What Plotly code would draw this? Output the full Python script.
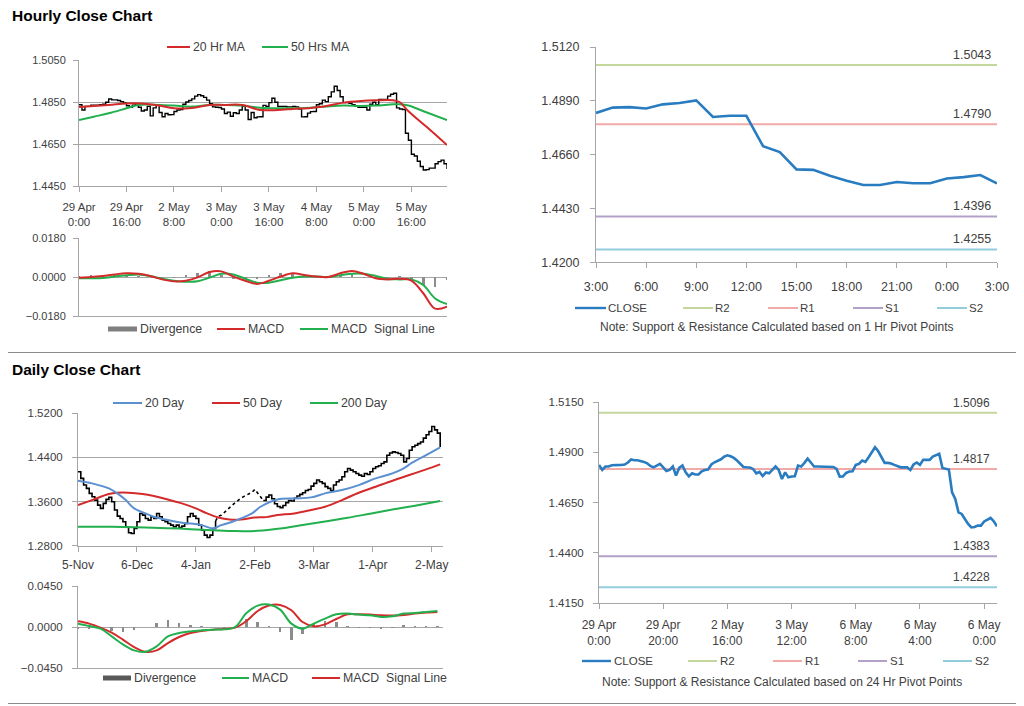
import plotly.graph_objects as go
import numpy as np

FONT = "Liberation Sans, Arial, sans-serif"
W, H = 1024, 706
OFF = 8  # the page body margin shifts the figure by this many pixels
TXT = "#404040"
AX = "#a6a6a6"

# ---------------- DATA ----------------
# Hourly closes (29 Apr 0:00 .. 6 May 0:00 + 4h), one value per hour
HOURLY_CLOSE = [
    1.4837, 1.4812, 1.4829, 1.4829, 1.4835, 1.4835, 1.4835, 1.4837, 1.4839, 1.4849,
    1.4864, 1.4860, 1.4860, 1.4857, 1.4852, 1.4845, 1.4832, 1.4825, 1.4835, 1.4842,
    1.4825, 1.4807, 1.4812, 1.4829, 1.4784, 1.4822, 1.4834, 1.4800, 1.4780, 1.4795,
    1.4789, 1.4790, 1.4805, 1.4812, 1.4814, 1.4839, 1.4850, 1.4857, 1.4865, 1.4878,
    1.4885, 1.4880, 1.4872, 1.4859, 1.4842, 1.4827, 1.4825, 1.4824, 1.4817, 1.4795,
    1.4802, 1.4782, 1.4799, 1.4795, 1.4812, 1.4829, 1.4812, 1.4767, 1.4800, 1.4775,
    1.4779, 1.4780, 1.4834, 1.4829, 1.4847, 1.4868, 1.4849, 1.4829, 1.4829, 1.4829,
    1.4827, 1.4827, 1.4829, 1.4827, 1.4817, 1.4779, 1.4780, 1.4797, 1.4804, 1.4805,
    1.4837, 1.4842, 1.4859, 1.4852, 1.4875, 1.4898, 1.4925, 1.4905, 1.4875, 1.4847,
    1.4847, 1.4844, 1.4837, 1.4829, 1.4825, 1.4825, 1.4825, 1.4812, 1.4839, 1.4849,
    1.4837, 1.4862, 1.4862, 1.4862, 1.4878, 1.4887, 1.4892, 1.4822, 1.4817, 1.4814,
    1.4701, 1.4668, 1.4601, 1.4593, 1.4568, 1.4543, 1.4526, 1.4528, 1.4535, 1.4535,
    1.4556, 1.4566, 1.4573, 1.4556, 1.4531,
]
HOURLY_TICK_POS_A = [0, 16, 32, 48, 64, 80, 96, 112]
HOURLY_TICK_TEXT_A = ["29 Apr<br>0:00", "29 Apr<br>16:00", "2 May<br>8:00", "3 May<br>0:00",
                      "3 May<br>16:00", "4 May<br>8:00", "5 May<br>0:00", "5 May<br>16:00"]
HOURLY_TICK_POS_B = [0, 20, 40, 60, 80, 100, 120]
HOURLY_TICK_TEXT_B = ["29 Apr<br>0:00", "29 Apr<br>20:00", "2 May<br>16:00", "3 May<br>12:00",
                      "6 May<br>8:00", "6 May<br>4:00", "6 May<br>0:00"]

MA20H_X = [0, 10, 16, 21, 27, 32, 38, 44, 49, 55, 61, 67, 72, 78, 83, 89, 95, 100, 106, 108, 111, 117, 124]
MA20H_Y = [1.4826, 1.4836, 1.4843, 1.4843, 1.4833, 1.4820, 1.4822, 1.4836, 1.4836, 1.4836, 1.4812,
           1.4812, 1.4817, 1.4822, 1.4830, 1.4847, 1.4855, 1.4858, 1.4858, 1.4850, 1.4806, 1.4733, 1.4645]
MA50H_X = [0, 5, 10, 16, 20, 27, 32, 38, 44, 49, 55, 61, 67, 72, 78, 83, 89, 95, 100, 106, 108, 111, 117, 124]
MA50H_Y = [1.4764, 1.4780, 1.4796, 1.4820, 1.4836, 1.4836, 1.4833, 1.4828, 1.4836, 1.4836, 1.4833, 1.4823,
           1.4820, 1.4820, 1.4823, 1.4828, 1.4833, 1.4831, 1.4833, 1.4839, 1.4839, 1.4833, 1.4801, 1.4764]

MACDH_X = list(range(0, 125, 4))
MACDH_MACD = [-0.0003, 0.0000, 0.0005, 0.0012, 0.0017, 0.0015, 0.0005, -0.0011, -0.0020, -0.0017,
              -0.0002, 0.0023, 0.0026, 0.0002, -0.0017, -0.0032, -0.0017, 0.0002, 0.0017, 0.0009,
              0.0002, 0.0000, 0.0017, 0.0028, 0.0014, -0.0006, -0.0011, -0.0008, -0.0017, -0.0075,
              -0.0146, -0.0137]
MACDH_SIGNAL = [-0.0006, -0.0006, -0.0005, 0.0002, 0.0008, 0.0012, 0.0005, -0.0008, -0.0017, -0.0022,
                -0.0020, -0.0003, 0.0015, 0.0012, -0.0008, -0.0026, -0.0026, -0.0015, -0.0003, 0.0002,
                0.0002, 0.0000, 0.0008, 0.0015, 0.0015, 0.0005, -0.0009, -0.0011, -0.0011, -0.0037,
                -0.0099, -0.0125]

# 1 Hr pivot chart
PIV1_LABELS = ["3:00", "6:00", "9:00", "12:00", "15:00", "18:00", "21:00", "0:00", "3:00"]
PIV1_CLOSE = [1.4838, 1.4861, 1.4863, 1.4857, 1.4875, 1.4881, 1.4892, 1.4821, 1.4826, 1.4826,
              1.4696, 1.4671, 1.4597, 1.4595, 1.4570, 1.4548, 1.4530, 1.4530, 1.4543, 1.4538,
              1.4538, 1.4558, 1.4564, 1.4573, 1.4537]
PIV1_LEVELS = {"R2": 1.5043, "R1": 1.4790, "S1": 1.4396, "S2": 1.4255}

# 24 Hr pivot levels
PIV24_LEVELS = {"R2": 1.5096, "R1": 1.4817, "S1": 1.4383, "S2": 1.4228}

# Daily closes (5-Nov .. early May)
DAILY_CLOSE = [
    1.4141, 1.4020, 1.3899, 1.3839, 1.3748, 1.3688, 1.3627, 1.3536, 1.3476, 1.3567,
    1.3639, 1.3676, 1.3597, 1.3446, 1.3337, 1.3294, 1.3234, 1.3143, 1.3034, 1.3022,
    1.3113, 1.3234, 1.3385, 1.3355, 1.3294, 1.3264, 1.3325, 1.3294, 1.3385, 1.3325,
    1.3264, 1.3234, 1.3203, 1.3173, 1.3143, 1.3173, 1.3131, 1.3155, 1.3203, 1.3325,
    1.3385, 1.3337, 1.3294, 1.3173, 1.3082, 1.2992, 1.2949, 1.2992, 1.3113, 1.3250,
    1.3337, 1.3350, 1.3400, 1.3440, 1.3490, 1.3536, 1.3580, 1.3627, 1.3660, 1.3690,
    1.3718, 1.3740, 1.3770, 1.3821, 1.3760, 1.3690, 1.3620, 1.3680, 1.3720, 1.3650,
    1.3560, 1.3510, 1.3490, 1.3530, 1.3580, 1.3620, 1.3610, 1.3660, 1.3700, 1.3730,
    1.3760, 1.3800, 1.3820, 1.3880, 1.3930, 1.3990, 1.3960, 1.3930, 1.3870, 1.3840,
    1.3800, 1.3900, 1.3960, 1.3990, 1.4050, 1.4141, 1.4200, 1.4170, 1.4141, 1.4110,
    1.4080, 1.4060, 1.4110, 1.4090, 1.4140, 1.4200, 1.4230, 1.4250, 1.4290, 1.4320,
    1.4440, 1.4480, 1.4500, 1.4490, 1.4470, 1.4440, 1.4320, 1.4380, 1.4530, 1.4595,
    1.4620, 1.4650, 1.4680, 1.4750, 1.4810, 1.4870, 1.4960, 1.4900, 1.4840, 1.4590,
]
DAILY_GAP = (49, 66)  # stretch drawn dotted in the source
DAILY_TICK_POS = [0, 21, 42, 63, 84, 105, 126]
DAILY_TICK_TEXT = ["5-Nov", "6-Dec", "4-Jan", "2-Feb", "3-Mar", "1-Apr", "2-May"]

MA20D_X = [0, 5, 11, 14, 17, 20, 24, 27, 32, 37, 40, 44, 48, 51, 55, 58, 62, 65, 71, 77, 83, 88, 94,
           100, 106, 112, 116, 119, 124, 129]
MA20D_Y = [1.3978, 1.3930, 1.3839, 1.3748, 1.3627, 1.3476, 1.3385, 1.3325, 1.3264, 1.3216, 1.3203,
           1.3173, 1.3113, 1.3173, 1.3234, 1.3294, 1.3385, 1.3506, 1.3639, 1.3657, 1.3676, 1.3748,
           1.3808, 1.3899, 1.4020, 1.4111, 1.4202, 1.4305, 1.4444, 1.4583]
MA50D_X = [0, 5, 11, 14, 18, 23, 27, 32, 37, 42, 46, 50, 54, 58, 63, 67, 71, 77, 83, 88, 94, 100, 106,
           112, 118, 124, 129]
MA50D_Y = [1.3536, 1.3627, 1.3736, 1.3760, 1.3760, 1.3736, 1.3700, 1.3639, 1.3567, 1.3476, 1.3385,
           1.3312, 1.3276, 1.3276, 1.3312, 1.3318, 1.3355, 1.3385, 1.3446, 1.3506, 1.3627, 1.3760,
           1.3869, 1.3978, 1.4081, 1.4184, 1.4274]
MA200D_X = [0, 12, 24, 36, 48, 56, 64, 72, 80, 88, 96, 104, 112, 120, 129]
MA200D_Y = [1.3145, 1.3143, 1.3130, 1.3110, 1.3080, 1.3065, 1.3070, 1.3110, 1.3175, 1.3240, 1.3305,
            1.3380, 1.3455, 1.3525, 1.3610]

MACDD_X = list(range(0, 129, 4))
MACDD_MACD = [0.0037, 0.0011, -0.0018, -0.0103, -0.0191, -0.0257, -0.0272, -0.0213, -0.0103, -0.0066,
              -0.0048, -0.0037, -0.0029, -0.0026, 0.0000, 0.0154, 0.0235, 0.0246, 0.0191, 0.0037,
              -0.0018, 0.0037, 0.0092, 0.0139, 0.0147, 0.0136, 0.0128, 0.0110, 0.0117, 0.0147,
              0.0154, 0.0165, 0.0176]
MACDD_SIGNAL = [0.0062, 0.0037, -0.0007, -0.0062, -0.0139, -0.0220, -0.0272, -0.0257, -0.0176, -0.0110,
                -0.0066, -0.0044, -0.0029, -0.0022, -0.0007, 0.0066, 0.0176, 0.0235, 0.0242, 0.0184,
                0.0055, 0.0007, 0.0029, 0.0088, 0.0139, 0.0139, 0.0136, 0.0128, 0.0125, 0.0132,
                0.0147, 0.0158, 0.0165]

# ---------------- STYLE ----------------
RED = "#d42a2a"
GREEN = "#22b04e"
BLUE_MA = "#5a8fd0"
CLOSE_BLUE = "#2a7cc0"
PIV_COL = {"R2": "#c3d69b", "R1": "#f2aaa8", "S1": "#b3a2c7", "S2": "#93cddd"}
DIV_GRAY = "#8c8c8c"


def px(x):
    return (x - OFF) / W


def py(y):
    return 1 - (y - OFF) / H


fig = go.Figure()

# ---- Panel 1 : hourly close with MAs
hx = np.arange(len(HOURLY_CLOSE))
fig.add_trace(go.Scatter(x=hx, y=HOURLY_CLOSE, mode="lines", line=dict(color="black", width=1.4, shape="hv"),
                         xaxis="x", yaxis="y"))
fig.add_trace(go.Scatter(x=MA50H_X, y=MA50H_Y, mode="lines", line=dict(color=GREEN, width=2, shape="spline"),
                         xaxis="x", yaxis="y"))
fig.add_trace(go.Scatter(x=MA20H_X, y=MA20H_Y, mode="lines", line=dict(color=RED, width=2, shape="spline"),
                         xaxis="x", yaxis="y"))

# ---- Panel 2 : hourly MACD
div_h = np.array(MACDH_MACD) - np.array(MACDH_SIGNAL)
fig.add_trace(go.Bar(x=MACDH_X, y=div_h, marker=dict(color=DIV_GRAY, line=dict(width=0)), width=0.9,
                     xaxis="x2", yaxis="y2"))
fig.add_trace(go.Scatter(x=MACDH_X, y=MACDH_SIGNAL, mode="lines", line=dict(color=GREEN, width=2, shape="spline"),
                         xaxis="x2", yaxis="y2"))
fig.add_trace(go.Scatter(x=MACDH_X, y=MACDH_MACD, mode="lines", line=dict(color=RED, width=2, shape="spline"),
                         xaxis="x2", yaxis="y2"))

# ---- Panel 3 : 1 Hr pivots
n3 = len(PIV1_CLOSE)
for k in ["R2", "R1", "S1", "S2"]:
    fig.add_trace(go.Scatter(x=[0, n3 - 1], y=[PIV1_LEVELS[k]] * 2, mode="lines",
                             line=dict(color=PIV_COL[k], width=2), xaxis="x3", yaxis="y3"))
fig.add_trace(go.Scatter(x=np.arange(n3), y=PIV1_CLOSE, mode="lines", line=dict(color=CLOSE_BLUE, width=2.6),
                         xaxis="x3", yaxis="y3"))

# ---- Panel 4 : daily close with MAs
dc = np.array(DAILY_CLOSE)
dx = np.arange(len(dc))
g0, g1 = DAILY_GAP
fig.add_trace(go.Scatter(x=dx[:g0 + 1], y=dc[:g0 + 1], mode="lines", line=dict(color="black", width=1.6, shape="hv"),
                         xaxis="x4", yaxis="y4"))
fig.add_trace(go.Scatter(x=dx[g0:g1 + 1], y=dc[g0:g1 + 1], mode="lines",
                         line=dict(color="black", width=1.6, dash="dot"), xaxis="x4", yaxis="y4"))
fig.add_trace(go.Scatter(x=dx[g1:], y=dc[g1:], mode="lines", line=dict(color="black", width=1.6, shape="hv"),
                         xaxis="x4", yaxis="y4"))
fig.add_trace(go.Scatter(x=MA200D_X, y=MA200D_Y, mode="lines", line=dict(color=GREEN, width=2, shape="spline"),
                         xaxis="x4", yaxis="y4"))
fig.add_trace(go.Scatter(x=MA50D_X, y=MA50D_Y, mode="lines", line=dict(color=RED, width=2, shape="spline"),
                         xaxis="x4", yaxis="y4"))
fig.add_trace(go.Scatter(x=MA20D_X, y=MA20D_Y, mode="lines", line=dict(color=BLUE_MA, width=2, shape="spline"),
                         xaxis="x4", yaxis="y4"))

# ---- Panel 5 : daily MACD
div_d = np.array(MACDD_MACD) - np.array(MACDD_SIGNAL)
fig.add_trace(go.Bar(x=MACDD_X, y=div_d, marker=dict(color=DIV_GRAY, line=dict(width=0)), width=0.9,
                     xaxis="x5", yaxis="y5"))
fig.add_trace(go.Scatter(x=MACDD_X, y=MACDD_SIGNAL, mode="lines", line=dict(color=RED, width=2, shape="spline"),
                         xaxis="x5", yaxis="y5"))
fig.add_trace(go.Scatter(x=MACDD_X, y=MACDD_MACD, mode="lines", line=dict(color=GREEN, width=2, shape="spline"),
                         xaxis="x5", yaxis="y5"))

# ---- Panel 6 : 24 Hr pivots
n6 = len(HOURLY_CLOSE)
for k in ["R2", "R1", "S1", "S2"]:
    fig.add_trace(go.Scatter(x=[0, n6 - 1], y=[PIV24_LEVELS[k]] * 2, mode="lines",
                             line=dict(color=PIV_COL[k], width=2), xaxis="x6", yaxis="y6"))
fig.add_trace(go.Scatter(x=hx, y=HOURLY_CLOSE, mode="lines", line=dict(color=CLOSE_BLUE, width=2.6),
                         xaxis="x6", yaxis="y6"))


# ---------------- AXES ----------------
def yax(dom, rng, anchor, tickvals, size, standoff, grid=True):
    return dict(domain=dom, range=rng, anchor=anchor, tickvals=tickvals, tickmode="array",
                tickformat=".4f", showgrid=grid, automargin=False,
                gridcolor=AX, gridwidth=1, zeroline=False, showline=True, linecolor=AX, linewidth=1,
                ticks="outside", ticklen=5, tickcolor=AX, ticklabelstandoff=standoff,
                tickfont=dict(family=FONT, size=size, color=TXT), fixedrange=True)


def xax(dom, rng, anchor, tickvals=None, ticktext=None, size=11, standoff=4, labels=True):
    d = dict(domain=dom, range=rng, anchor=anchor, showgrid=False, zeroline=False, showline=True,
             automargin=False, linecolor=AX, linewidth=1, fixedrange=True,
             tickfont=dict(family=FONT, size=size, color=TXT))
    if labels:
        d.update(tickmode="array", tickvals=tickvals, ticktext=ticktext, ticks="outside", ticklen=5,
                 tickcolor=AX, ticklabelstandoff=standoff)
    else:
        d.update(showticklabels=False, ticks="")
    return d


layout = dict(
    template="none",
    width=W, height=H, margin=dict(l=0, r=0, t=0, b=0, pad=0, autoexpand=False),
    paper_bgcolor="white", plot_bgcolor="white",
    showlegend=False, bargap=0, font=dict(family=FONT, color=TXT),
    xaxis=xax([px(79), px(447)], [0, 124], "y", HOURLY_TICK_POS_A, HOURLY_TICK_TEXT_A, 11.5, 5),
    yaxis=yax([py(186), py(60)], [1.4450, 1.5050], "x", [1.4450, 1.4650, 1.4850, 1.5050], 11, 5),
    xaxis2=xax([px(79), px(447)], [0, 124], "y2", labels=False),
    yaxis2=yax([py(316), py(238)], [-0.018, 0.018], "x2", [-0.018, 0.0, 0.018], 11, 5),
    xaxis3=xax([px(596), px(997)], [0, 24], "y3", list(range(0, 25, 3)), PIV1_LABELS, 12.5, 8),
    yaxis3=yax([py(262.3), py(47)], [1.4200, 1.5120], "x3", [1.4200, 1.4430, 1.4660, 1.4890, 1.5120], 12.5, 8,
               grid=False),
    xaxis4=xax([px(78), px(443)], [0, 130], "y4", DAILY_TICK_POS, DAILY_TICK_TEXT, 12, 3),
    yaxis4=yax([py(545.7), py(413.3)], [1.2800, 1.5200], "x4", [1.2800, 1.3600, 1.4400, 1.5200], 11.5, 7),
    xaxis5=xax([px(78), px(443)], [0, 130], "y5", labels=False),
    yaxis5=yax([py(668), py(586)], [-0.045, 0.045], "x5", [-0.045, 0.0, 0.045], 11.5, 7),
    xaxis6=xax([px(599), px(997)], [0, 124], "y6", HOURLY_TICK_POS_B, HOURLY_TICK_TEXT_B, 12, 6),
    yaxis6=yax([py(603), py(402)], [1.4150, 1.5150], "x6", [1.4150, 1.4400, 1.4650, 1.4900, 1.5150], 11.5, 7,
               grid=False),
)
fig.update_layout(**layout)

shapes = []
annotations = []


def leg_line(x0, x1, y, color, width=2):
    shapes.append(dict(type="line", xref="paper", yref="paper", x0=px(x0), x1=px(x1), y0=py(y), y1=py(y),
                       line=dict(color=color, width=width)))


def leg_box(x0, x1, y, color):
    shapes.append(dict(type="rect", xref="paper", yref="paper", x0=px(x0), x1=px(x1), y0=py(y + 2.5),
                       y1=py(y - 2.5), fillcolor=color, line=dict(width=0)))


def text(x, y, s, size=12, anchor="left", color=TXT, bold=False):
    annotations.append(dict(xref="paper", yref="paper", x=px(x), y=py(y), text=f"<b>{s}</b>" if bold else s,
                            showarrow=False, xanchor=anchor, yanchor="middle", borderpad=0,
                            font=dict(family=FONT, size=size, color=color)))


# Titles and separators
text(11, 16, "Hourly Close Chart", 15.5, color="black", bold=True)
text(11, 369, "Daily Close Chart", 15.5, color="black", bold=True)
for yy in (352.5, 703.5):
    shapes.append(dict(type="line", xref="paper", yref="paper", x0=0, x1=1, y0=py(yy), y1=py(yy),
                       line=dict(color="#8a8a8a", width=1.2)))

# Panel 1 legend
leg_line(167, 190, 47, RED)
text(192, 47, "20 Hr MA", 12.3)
leg_line(262, 288, 47, GREEN)
text(290, 47, "50 Hrs MA", 12.3)

# Panel 2 legend
leg_box(108, 137, 329, "#7f7f7f")
text(139, 329, "Divergence", 12.3)
leg_line(217, 245, 329, RED)
text(247, 329, "MACD", 12.3)
leg_line(300, 328, 329, GREEN)
text(330, 329, "MACD&nbsp;&nbsp;Signal Line", 12.3)

# Panel 3 legend
y3 = 308
leg_line(575, 606, y3, CLOSE_BLUE, 2.4)
text(607, y3, "CLOSE", 11.5)
for (x0, k) in [(683, "R2"), (768, "R1"), (853, "S1"), (937, "S2")]:
    leg_line(x0, x0 + 30, y3, PIV_COL[k], 2)
    text(x0 + 31, y3, k, 11.5)
text(777, 327, "Note: Support &amp; Resistance Calculated based on 1 Hr Pivot Points", 12, anchor="center")

# Panel 4 legend
leg_line(113, 142, 403, BLUE_MA)
text(144, 403, "20 Day", 12.3)
leg_line(212, 240, 403, RED)
text(242, 403, "50 Day", 12.3)
leg_line(310, 338, 403, GREEN)
text(340, 403, "200 Day", 12.3)

# Panel 5 legend
leg_box(103, 131, 678, "#595959")
text(133, 678, "Divergence", 12.3)
leg_line(222, 249, 678, GREEN)
text(251, 678, "MACD", 12.3)
leg_line(312, 340, 678, RED)
text(342, 678, "MACD&nbsp;&nbsp;Signal Line", 12.3)

# Panel 6 legend
y6 = 661
leg_line(582, 611, y6, CLOSE_BLUE, 2.4)
text(613, y6, "CLOSE", 11.5)
for (x0, k) in [(688, "R2"), (773, "R1"), (858, "S1"), (943, "S2")]:
    leg_line(x0, x0 + 29, y6, PIV_COL[k], 2)
    text(x0 + 31, y6, k, 11.5)
text(782, 682, "Note: Support &amp; Resistance Calculated based on 24 Hr Pivot Points", 12, anchor="center")

# Pivot value labels
for k, v in PIV1_LEVELS.items():
    annotations.append(dict(xref="x3", yref="y3", x=22.5, y=v, yshift=10, text=f"{v:.4f}", showarrow=False,
                            xanchor="center", yanchor="middle", font=dict(family=FONT, size=12.5, color=TXT)))
for k, v in PIV24_LEVELS.items():
    annotations.append(dict(xref="x6", yref="y6", x=116, y=v, yshift=10, text=f"{v:.4f}", showarrow=False,
                            xanchor="center", yanchor="middle", font=dict(family=FONT, size=12, color=TXT)))

fig.update_layout(shapes=shapes, annotations=annotations)
fig.write_html("out.html")
